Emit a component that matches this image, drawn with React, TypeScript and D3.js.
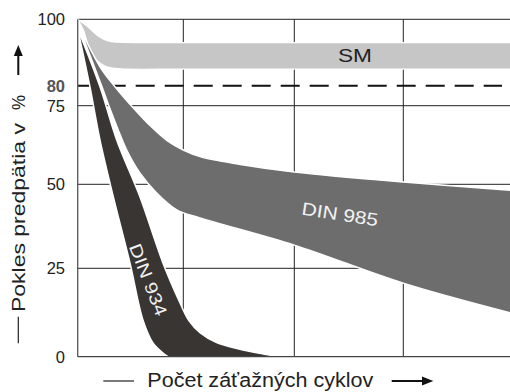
import React from "react";
import * as d3 from "d3";

type P = [number, number];

// Grid / tick definitions
const yTicks = [0, 25, 50, 75, 100];
const yTickLabels = ["0", "25", "50", "75", "100"];
const refLevel = 80;
const xGrid = [1, 2, 3];

// Series bands: [cycles (grid units), preload loss %]
const smUpper: P[] = [[0, 100], [0.098, 97.7], [0.193, 95.0], [0.287, 93.5], [0.381, 93.1], [1, 93.0], [2, 93.0], [3, 93.0], [4, 93.0]];
const smLower: P[] = [[0, 100], [0.053, 96.8], [0.116, 90.75], [0.18, 87.7], [0.258, 85.9], [0.353, 85.2], [0.464, 85.0], [1, 85.0], [2, 85.0], [3, 85.0], [4, 85.0]];

const din985Upper: P[] = [[0, 98.8], [0.211, 85.7], [0.353, 79.75], [0.527, 74.3], [0.7, 68.2], [0.85, 63.8], [1.0, 60.9], [1.15, 58.8], [1.5, 56.4], [2, 53.9], [3, 50.7], [4, 48.2]];
const din985Lower: P[] = [[0, 98.8], [0.23, 79.75], [0.296, 74.9], [0.384, 67.3], [0.464, 60.9], [0.589, 53.6], [0.748, 47.4], [0.938, 42.4], [1.15, 40.0], [2, 31.9], [3, 20.8], [4, 12.3]];

const din934Left: P[] = [[0, 97.2], [0.116, 79.75], [0.211, 64.1], [0.337, 46.3], [0.495, 26.6], [0.618, 10.4], [0.713, 3.9], [0.808, 1.05], [0.855, 0]];
const din934Right: P[] = [[0, 97.2], [0.211, 79.75], [0.369, 64.1], [0.589, 46.3], [0.807, 26.6], [0.969, 15.2], [1.05, 10.2], [1.15, 6.8], [1.3, 4.0], [1.5, 2.2], [1.7, 0.9], [1.87, 0]];

const xScale = d3.scaleLinear().domain([0, 1, 2, 3, 4]).range([77.7, 183.3, 294.3, 403.3, 512]);
const yScale = d3.scaleLinear().domain([0, 25, 50, 75, 80, 100]).range([356.7, 268.3, 184.3, 105.7, 85.7, 19.3]);

const lineGen = d3
  .line<P>()
  .x((d) => xScale(d[0]))
  .y((d) => yScale(d[1]))
  .curve(d3.curveCatmullRom.alpha(0.5));

function bandPath(a: P[], b: P[]): string {
  const pa = lineGen(a) || "";
  const pb = lineGen(b.slice().reverse()) || "";
  return pa + "L" + pb.slice(1) + "Z";
}

const FONT = "Arial, 'Liberation Sans', Helvetica, sans-serif";

export default function App() {
  const x0 = xScale(0);
  const xR = 510;
  const yTop = yScale(100);
  const yBot = yScale(0);
  return (
    <svg width={510} height={392} style={{ position: "absolute", left: 0, top: 0, background: "#fff" }} fontFamily={FONT}>
      {/* grid */}
      {yTicks.filter((t) => t !== 0).map((t) => (
        <line key={"h" + t} x1={x0} x2={xR} y1={yScale(t)} y2={yScale(t)} stroke="#222" strokeWidth={1} />
      ))}
      {xGrid.map((g) => (
        <line key={"v" + g} x1={xScale(g)} x2={xScale(g)} y1={yTop} y2={yBot} stroke="#222" strokeWidth={1} />
      ))}
      <line x1={x0} x2={502} y1={yScale(refLevel)} y2={yScale(refLevel)} stroke="#111" strokeWidth={2} strokeDasharray="19 10" />

      {/* bands */}
      <path d={bandPath(smUpper, smLower)} fill="#c6c6c6" stroke="#fff" strokeWidth={1.2} />
      <path d={bandPath(din985Upper, din985Lower)} fill="#6d6d6d" stroke="#fff" strokeWidth={1.5} />
      <path d={bandPath(din934Left, din934Right)} fill="#383533" stroke="#fff" strokeWidth={1.5} />

      {/* axes */}
      <line x1={x0} x2={x0} y1={yTop} y2={yBot} stroke="#555" strokeWidth={1.3} />
      <line x1={x0} x2={xR} y1={yBot} y2={yBot} stroke="#444" strokeWidth={1.2} />

      {/* y tick labels */}
      {yTicks.map((t, i) => (
        <text key={"yl" + t} x={65} y={yScale(t)} dy="0.36em" textAnchor="end" fontSize={16.5} fill="#222">
          {yTickLabels[i]}
        </text>
      ))}
      <text x={65} y={yScale(refLevel)} dy="0.36em" textAnchor="end" fontSize={16.5} fontWeight="bold" fill="#555">
        {String(refLevel)}
      </text>

      {/* series labels */}
      <text x={355} y={55} dy="0.36em" textAnchor="middle" fontSize={19} fill="#222" textLength={34} lengthAdjust="spacingAndGlyphs">
        SM
      </text>
      <text transform="translate(340,214) rotate(8.7)" dy="0.36em" textAnchor="middle" fontSize={18} fill="#f2f2f2" textLength={77} lengthAdjust="spacingAndGlyphs">
        DIN 985
      </text>
      <text transform="translate(148.5,279.5) rotate(68.7)" dy="0.36em" textAnchor="middle" fontSize={17.5} fill="#f2f2f2" textLength={76} lengthAdjust="spacingAndGlyphs">
        DIN 934
      </text>

      {/* x title */}
      <line x1={103.3} x2={134} y1={381} y2={381} stroke="#222" strokeWidth={1.2} />
      <text x={147.3} y={386.7} fontSize={19.5} fill="#222" textLength={226} lengthAdjust="spacingAndGlyphs">
        Počet záťažných cyklov
      </text>
      <line x1={391.7} x2={424} y1={381} y2={381} stroke="#111" strokeWidth={2} />
      <path d="M433.3,381 L422,376.5 L422,385.5 Z" fill="#111" />

      {/* y title */}
      <text transform="translate(25,312) rotate(-90)" fontSize={18.6} fill="#222" textLength={189} lengthAdjust="spacingAndGlyphs">
        Pokles predpätia v
      </text>
      <text transform="translate(25,110) rotate(-90)" fontSize={18.6} fill="#222" textLength={15} lengthAdjust="spacingAndGlyphs">
        %
      </text>
      <line x1={18.3} x2={18.3} y1={316.7} y2={343.3} stroke="#222" strokeWidth={1.2} />
      <line x1={18.3} x2={18.3} y1={54} y2={75} stroke="#111" strokeWidth={2} />
      <path d="M18.3,45 L13.8,56 L22.8,56 Z" fill="#111" />
    </svg>
  );
}
